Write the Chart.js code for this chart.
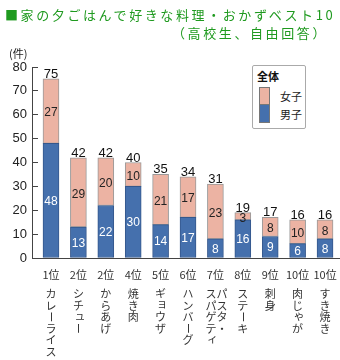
<!DOCTYPE html>
<html><head><meta charset="utf-8">
<script src="https://cdn.jsdelivr.net/npm/chart.js@4/dist/chart.umd.min.js"></script>
<style>
body{margin:0;background:#fff;}
#wrap{position:relative;width:340px;height:360px;overflow:hidden;font-family:"Noto Sans CJK JP",sans-serif;}
canvas{position:absolute;left:0;top:0;}
.t1{position:absolute;left:5px;top:6px;font-size:13px;letter-spacing:2.6px;color:#1f9a1f;white-space:nowrap;line-height:18px;}
.t2{position:absolute;right:12px;top:24px;font-size:13px;letter-spacing:2.6px;color:#1f9a1f;white-space:nowrap;line-height:18px;}
.unit{position:absolute;left:9px;top:46px;font-size:11px;color:#222;line-height:14px;}
#legend{position:absolute;left:252px;top:65px;width:52px;height:62px;border:1px solid #aaa;border-radius:2px;background:#fff;}
#legend .lt{position:absolute;left:4px;top:3px;font-size:11px;font-weight:bold;color:#111;line-height:14px;}
#legend .sw{position:absolute;left:6px;width:11px;box-sizing:border-box;border:1px solid #777;}
#legend .ll{position:absolute;left:27px;font-size:11px;color:#222;line-height:14px;}
</style></head>
<body><div id="wrap">
<canvas id="c" width="340" height="360"></canvas>
<div class="t1">■家の夕ごはんで好きな料理・おかずベスト10</div>
<div class="t2">（高校生、自由回答）</div>
<div class="unit">(件)</div>
<div id="legend"></div>
</div>
<script>
const ranks = ['1位','2位','2位','4位','5位','6位','7位','8位','9位','10位','10位'];
const names = ['カレーライス','シチュー','からあげ','焼き肉','ギョウザ','ハンバーグ','パスタ・\nスパゲティ','ステーキ','刺身','肉じゃが','すき焼き'];
const boys  = [48,13,22,30,14,17,8,16,9,6,8];
const girls = [27,29,20,10,21,17,23,3,8,10,8];
const totals= [75,42,42,40,35,34,31,19,17,16,16];
const yTicks = [0,10,20,30,40,50,60,70,80];
const legendTitle = '全体';
const seriesNames = ['男子','女子'];

const BLUE='#4570ad', PINK='#ecb3a3';
const NUM_FONT='"Liberation Sans Narrow","Liberation Sans",Arial,sans-serif';
const JP_FONT='"Noto Sans CJK JP",sans-serif';

const valuePlugin = {
  id:'vals',
  afterDatasetsDraw(chart){
    const ctx = chart.ctx;
    ctx.save();
    ctx.textAlign='center';
    ctx.textBaseline='middle';
    ctx.font='12px '+NUM_FONT;
    chart.data.datasets.forEach((ds,di)=>{
      const meta = chart.getDatasetMeta(di);
      meta.data.forEach((bar,i)=>{
        const v = ds.data[i].y;
        const mid = (bar.y+bar.base)/2;
        ctx.fillStyle = di===0 ? '#fff' : '#222';
        ctx.fillText(String(v), bar.x, mid + (di===0?1:2));
      });
    });
    const top = chart.getDatasetMeta(1).data;
    ctx.fillStyle='#111';
    ctx.textBaseline='alphabetic';
    ctx.font='13px '+NUM_FONT;
    top.forEach((bar,i)=>{
      ctx.fillText(String(totals[i]), bar.x, bar.y-1);
    });
    ctx.restore();
  }
};

const SMALL = 'ャュョィァゥェォッゃゅょっぁぃぅぇぉ';
const namePlugin = {
  id:'names',
  afterDraw(chart){
    const ctx = chart.ctx;
    const xs = chart.scales.x;
    ctx.save();
    ctx.font='11px '+JP_FONT;
    ctx.fillStyle='#333';
    ctx.textAlign='center';
    ctx.textBaseline='middle';
    const y0 = 294, step = 11.5, colGap = 11;
    names.forEach((nm,i)=>{
      const cx = xs.getPixelForValue(i);
      const cols = nm.split('\n');
      const n = cols.length;
      cols.forEach((col,ci)=>{
        const x = cx + ((n-1)/2 - ci)*colGap + (n>1?1:0);
        [...col].forEach((ch,k)=>{
          const y = y0 + k*step;
          if (ch==='ー'){
            ctx.save(); ctx.translate(x,y); ctx.rotate(Math.PI/2); ctx.fillText(ch,0,0); ctx.restore();
          } else if (SMALL.includes(ch)){
            ctx.fillText(ch,x+1.5,y-1.5);
          } else {
            ctx.fillText(ch,x,y);
          }
        });
      });
    });
    ctx.restore();
  }
};

const toPts = arr => arr.map((v,i)=>({x:i,y:v}));

new Chart(document.getElementById('c'),{
  type:'bar',
  data:{
    datasets:[
      {label:seriesNames[0],data:toPts(boys),backgroundColor:BLUE,borderColor:'#35578c',borderWidth:1,barThickness:16,borderSkipped:false},
      {label:seriesNames[1],data:toPts(girls),backgroundColor:PINK,borderColor:'#999',borderWidth:1,barThickness:16,borderSkipped:false}
    ]
  },
  options:{
    responsive:false,
    animation:false,
    devicePixelRatio:1,
    layout:{padding:{top:67,right:1,left:0,bottom:0}},
    plugins:{legend:{display:false},tooltip:{enabled:false}},
    scales:{
      x:{
        type:'linear',stacked:true,min:-0.693,max:10.51,offset:false,
        afterBuildTicks:s=>{s.ticks=ranks.map((_,i)=>({value:i}));},
        afterFit:s=>{s.height=102;},
        grid:{display:false,offset:false},
        border:{display:true,color:'#444',width:1},
        ticks:{callback:v=>ranks[v]??'',font:{size:11,family:JP_FONT},color:'#333',padding:2,maxRotation:0,autoSkip:false}
      },
      y:{
        stacked:true,min:0,max:80,
        afterBuildTicks:s=>{s.ticks=yTicks.map(v=>({value:v}));},
        afterFit:s=>{s.width=32;},
        grid:{drawOnChartArea:false,drawTicks:true,tickLength:-6,color:'#444'},
        border:{display:true,color:'#444',width:1},
        ticks:{font:{size:13,family:NUM_FONT},color:'#222',padding:11}
      }
    }
  },
  plugins:[valuePlugin,namePlugin]
});

const lg=document.getElementById('legend');
lg.innerHTML='<div class="lt">'+legendTitle+'</div>';
const items=[{name:seriesNames[1],color:PINK,top:21,h:18},{name:seriesNames[0],color:BLUE,top:38,h:19}];
items.forEach(it=>{
  const sw=document.createElement('div');sw.className='sw';
  sw.style.top=it.top+'px';sw.style.height=it.h+'px';sw.style.background=it.color;
  lg.appendChild(sw);
  const l=document.createElement('div');l.className='ll';
  l.style.top=(it.top+it.h/2-7)+'px';l.textContent=it.name;
  lg.appendChild(l);
});
</script>
</body></html>
